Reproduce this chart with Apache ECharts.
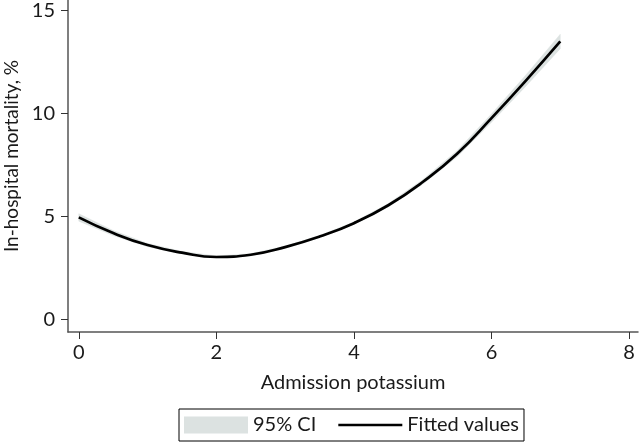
<!DOCTYPE html>
<html>
<head>
<meta charset="utf-8">
<script src="https://cdn.jsdelivr.net/npm/echarts@6/dist/echarts.min.js"></script>
<style>
html,body{margin:0;padding:0;background:#fff;}
#chart{width:640px;height:442px;}
</style>
</head>
<body>
<div id="chart"></div>
<script>
// Data
var potassium = [0, 0.5, 1, 1.5, 2, 2.5, 3, 3.5, 4, 4.5, 5, 5.5, 6, 6.5, 7];
var fittedValues = [4.96, 4.2, 3.62, 3.25, 3.04, 3.15, 3.52, 4.03, 4.68, 5.55, 6.68, 8.05, 9.78, 11.6, 13.5];
var ciLower = [4.78, 4.08, 3.54, 3.19, 2.99, 3.1, 3.47, 3.98, 4.62, 5.47, 6.57, 7.9, 9.58, 11.33, 13.15];
var ciUpper = [5.14, 4.32, 3.70, 3.31, 3.09, 3.2, 3.57, 4.08, 4.74, 5.63, 6.79, 8.2, 9.98, 11.87, 13.85];
var xTicks = [0, 2, 4, 6, 8];
var yTicks = [0, 5, 10, 15];
var xTitle = 'Admission potassium';
var yTitle = 'In-hospital mortality, %';
var legendNames = ['95% CI', 'Fitted values'];

var FONT = 'Lato';
var bandColor = '#dce2e1';

function pairs(ys) { return potassium.map(function (x, i) { return [x, ys[i]]; }); }
var bandData = potassium.map(function (x, i) { return [x, ciLower[i], ciUpper[i]]; });

var chart = echarts.init(document.getElementById('chart'), null, {renderer: 'canvas'});
chart.setOption({
  animation: false,
  backgroundColor: '#ffffff',
  grid: {left: 68, right: 2, top: 0, bottom: 110, containLabel: false, outerBoundsMode: 'none'},
  xAxis: {
    type: 'value', min: -0.157, max: 8.13,
    name: xTitle, nameLocation: 'middle', nameGap: 41,
    nameTextStyle: {fontFamily: FONT, fontSize: 20, color: '#1a1a1a'},
    axisLine: {show: true, onZero: false, lineStyle: {color: '#555', width: 1.5}},
    axisTick: {show: true, customValues: xTicks, length: 7, lineStyle: {color: '#333', width: 1}},
    axisLabel: {customValues: xTicks, fontFamily: FONT, fontSize: 20, color: '#1a1a1a', margin: 11},
    splitLine: {show: false}
  },
  yAxis: {
    type: 'value', min: -0.6, max: 15.51,
    name: yTitle, nameLocation: 'middle', nameGap: 46,
    nameTextStyle: {fontFamily: FONT, fontSize: 19, color: '#1a1a1a', padding: [0, 0, 0, 20]},
    axisLine: {show: true, onZero: false, lineStyle: {color: '#555', width: 1.5}},
    axisTick: {show: true, customValues: yTicks, length: 7, lineStyle: {color: '#333', width: 1}},
    axisLabel: {customValues: yTicks, fontFamily: FONT, fontSize: 20, color: '#1a1a1a', margin: 13},
    splitLine: {show: false}
  },
  legend: {
    left: 179, bottom: 1,
    padding: [6, 5, 6, 5],
    borderColor: '#000', borderWidth: 1,
    itemWidth: 64, itemHeight: 17, itemGap: 22,
    textStyle: {fontFamily: FONT, fontSize: 20, color: '#1a1a1a'},
    data: [
      {name: legendNames[0], icon: 'rect', itemStyle: {color: bandColor}},
      {name: legendNames[1], icon: 'path://M0,7.2H64V9.8H0Z', itemStyle: {color: '#000'}}
    ]
  },
  series: [
    {
      name: legendNames[0], type: 'custom', data: bandData, z: 1,
      encode: {x: 0, y: [1, 2]},
      itemStyle: {color: bandColor},
      renderItem: function (params, api) {
        if (params.dataIndex !== 0) return null;
        var pts = [];
        for (var i = 0; i < potassium.length; i++) pts.push(api.coord([potassium[i], ciUpper[i]]));
        for (var j = potassium.length - 1; j >= 0; j--) pts.push(api.coord([potassium[j], ciLower[j]]));
        return {type: 'polygon', shape: {points: pts}, style: {fill: bandColor, stroke: bandColor, lineWidth: 0.5}};
      }
    },
    {
      name: legendNames[1], type: 'line', data: pairs(fittedValues), z: 3,
      smooth: true, symbol: 'none',
      lineStyle: {color: '#000', width: 2.7},
      itemStyle: {color: '#000'}
    }
  ]
});
</script>
</body>
</html>
